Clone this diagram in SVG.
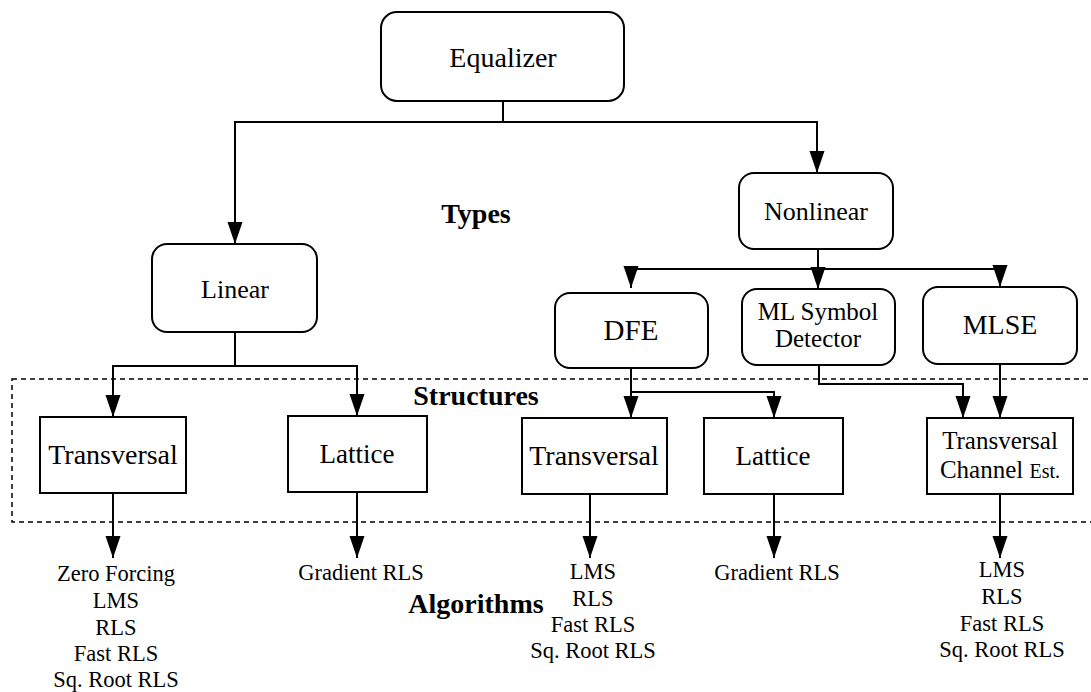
<svg xmlns="http://www.w3.org/2000/svg" width="1091" height="692" viewBox="0 0 1091 692" font-family="'Liberation Serif', 'Times New Roman', serif">
<style>
text{font-family:'Liberation Serif','Times New Roman',serif;font-weight:normal;fill:#000;text-anchor:middle}
.box{fill:#fff;stroke:#000;stroke-width:2}
.con{fill:none;stroke:#000;stroke-width:2}
.lbl{font-weight:bold;font-size:28px}
.alg{font-size:22.5px}
.dash{fill:none;stroke:#000;stroke-width:1.5;stroke-dasharray:5 4}
</style>
<defs>
<marker id="ah" markerUnits="userSpaceOnUse" markerWidth="22" markerHeight="16" refX="22" refY="7.5" orient="auto">
<path d="M0,0 L22,7.5 L0,15 z" fill="#000"/>
</marker>
</defs>
<rect class="dash" x="12" y="379" width="1100" height="143"/>
<g id="connectors">
<path class="con" d="M503,101 V122 H235 V244" marker-end="url(#ah)"/>
<path class="con" d="M503,122 H817 V173" marker-end="url(#ah)"/>
<path class="con" d="M818,249 V269 H631 V288" marker-end="url(#ah)"/>
<path class="con" d="M818,269 V289" marker-end="url(#ah)"/>
<path class="con" d="M818,269 H1000 V287" marker-end="url(#ah)"/>
<path class="con" d="M235,332 V366 H113 V417" marker-end="url(#ah)"/>
<path class="con" d="M235,366 H357 V416" marker-end="url(#ah)"/>
<path class="con" d="M631,368 V418" marker-end="url(#ah)"/>
<path class="con" d="M631,392 H774 V418" marker-end="url(#ah)"/>
<path class="con" d="M819,365 V384 H963 V418" marker-end="url(#ah)"/>
<path class="con" d="M1000,364 V418" marker-end="url(#ah)"/>
<path class="con" d="M113,493 V558" marker-end="url(#ah)"/>
<path class="con" d="M357,492 V558" marker-end="url(#ah)"/>
<path class="con" d="M590,494 V558" marker-end="url(#ah)"/>
<path class="con" d="M774,494 V558" marker-end="url(#ah)"/>
<path class="con" d="M1000,494 V558" marker-end="url(#ah)"/>
</g>
<g id="equalizer"><rect class="box" x="381" y="12" width="243" height="89" rx="16"/><text x="503" y="67" font-size="28">Equalizer</text></g>
<g id="linear"><rect class="box" x="152" y="244" width="165" height="88" rx="15"/><text x="235" y="298" font-size="26">Linear</text></g>
<g id="nonlinear"><rect class="box" x="739" y="173" width="154" height="76" rx="15"/><text x="816" y="220" font-size="26">Nonlinear</text></g>
<g id="dfe"><rect class="box" x="555" y="293" width="153" height="75" rx="15"/><text x="631" y="340" font-size="29">DFE</text></g>
<g id="mlsd"><rect class="box" x="742" y="289" width="153" height="76" rx="15"/><text x="818" y="320" font-size="25">ML Symbol</text><text x="818" y="347" font-size="25">Detector</text></g>
<g id="mlse"><rect class="box" x="923" y="287" width="154" height="77" rx="15"/><text x="1000" y="334" font-size="28">MLSE</text></g>
<g id="transversal1"><rect class="box" x="40" y="417" width="146" height="76"/><text x="113" y="464" font-size="28">Transversal</text></g>
<g id="lattice1"><rect class="box" x="288" y="416" width="139" height="76"/><text x="357" y="463" font-size="27">Lattice</text></g>
<g id="transversal2"><rect class="box" x="522" y="418" width="145" height="76"/><text x="594" y="465" font-size="28">Transversal</text></g>
<g id="lattice2"><rect class="box" x="704" y="418" width="139" height="76"/><text x="773" y="465" font-size="27">Lattice</text></g>
<g id="tce"><rect class="box" x="927" y="418" width="146" height="76"/><text x="1000" y="449" font-size="25">Transversal</text><text x="1000" y="478" font-size="25">Channel <tspan font-size="20">Est.</tspan></text></g>
<g id="labels">
<text class="lbl" x="476" y="223">Types</text>
<text class="lbl" x="476" y="405">Structures</text>
<text class="lbl" x="476" y="613">Algorithms</text>
</g>
<g id="alg1"><text class="alg" x="116" y="581">Zero Forcing</text><text class="alg" x="116" y="608">LMS</text><text class="alg" x="116" y="635">RLS</text><text class="alg" x="116" y="661">Fast RLS</text><text class="alg" x="116" y="687">Sq. Root RLS</text></g>
<g id="alg2"><text class="alg" x="361" y="580">Gradient RLS</text></g>
<g id="alg3"><text class="alg" x="593" y="579">LMS</text><text class="alg" x="593" y="606">RLS</text><text class="alg" x="593" y="632">Fast RLS</text><text class="alg" x="593" y="658">Sq. Root RLS</text></g>
<g id="alg4"><text class="alg" x="777" y="580">Gradient RLS</text></g>
<g id="alg5"><text class="alg" x="1002" y="577">LMS</text><text class="alg" x="1002" y="604">RLS</text><text class="alg" x="1002" y="631">Fast RLS</text><text class="alg" x="1002" y="657">Sq. Root RLS</text></g>
</svg>
